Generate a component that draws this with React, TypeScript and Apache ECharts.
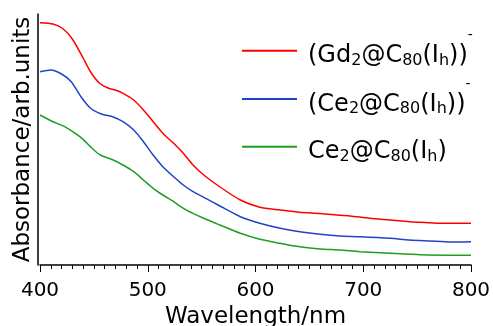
import React, { useEffect, useRef } from "react";
import * as echarts from "echarts";

const FONT = "DejaVu Sans";

const xTicks = [400, 500, 600, 700, 800];

const seriesNames = ["(Gd2@C80(Ih))-", "(Ce2@C80(Ih))-", "Ce2@C80(Ih)"];
const seriesColors = ["#ff0000", "#2244c4", "#1f9e1f"];

const redWl = [400, 412, 421, 430, 440, 447, 455, 463, 470, 477, 487, 496, 505, 514, 524, 533, 542, 552, 567, 586, 604, 623, 641, 660, 678, 688, 706, 725, 743, 762, 774, 800];
const redAbs = [242.3, 241, 236.5, 226, 207, 193, 182, 177, 175, 171.7, 165, 155, 143.3, 131.7, 121.7, 111.7, 100, 90, 78, 65, 57.7, 55, 52.7, 51.5, 49.8, 49, 46.7, 45, 43.3, 42.3, 41.7, 41.7];

const blueWl = [400, 410, 420, 429, 438, 447, 457, 468, 477, 487, 496, 505, 514, 524, 533, 542, 552, 567, 586, 604, 623, 641, 660, 678, 697, 725, 743, 762, 781, 800];
const blueAbs = [193.3, 195, 191, 183.3, 168.3, 156.7, 151, 148, 143.3, 135, 123.3, 110, 98.3, 88.3, 80, 73.3, 67.7, 59, 48.3, 41.7, 36.7, 33.3, 30.7, 29, 28.3, 26.7, 25, 24, 23, 23.3];

const greenWl = [400, 412, 424, 437, 450, 456, 468, 477, 487, 496, 505, 514, 524, 533, 542, 552, 567, 586, 604, 623, 641, 660, 678, 697, 725, 753, 800];
const greenAbs = [150, 143.3, 137.7, 128.3, 115, 110, 105, 100, 93.3, 85, 76.7, 70, 63.3, 56.7, 51.7, 46.7, 40, 31.7, 25.7, 21.7, 18.3, 16, 15, 13.3, 11.7, 10.3, 9.7];

// legend label pieces: [text, kind] (m = main, s = subscript, p = superscript)
const legendParts: [string, string][][] = [
  [["(Gd", "m"], ["2", "s"], ["@C", "m"], ["80", "s"], ["(I", "m"], ["h", "s"], ["))", "m"], ["-", "p"]],
  [["(Ce", "m"], ["2", "s"], ["@C", "m"], ["80", "s"], ["(I", "m"], ["h", "s"], ["))", "m"], ["-", "p"]],
  [["Ce", "m"], ["2", "s"], ["@C", "m"], ["80", "s"], ["(I", "m"], ["h", "s"], [")", "m"]],
];

const legendRowY = [50.7, 99, 146.7];
const PART_SIZE: Record<string, number> = { m: 24, s: 16, p: 14 };
// baseline offset from row line
const PART_BASE: Record<string, number> = { m: 12, s: 14.5, p: -11.5 };

function zip(xs: number[], ys: number[]) {
  return xs.map((x, i) => [x, ys[i]]);
}

function buildLegend() {
  const canvas = document.createElement("canvas");
  const ctx = canvas.getContext("2d")!;
  const els: any[] = [];
  legendParts.forEach((parts, i) => {
    const y0 = legendRowY[i];
    els.push({
      type: "line",
      shape: { x1: 242, y1: y0, x2: 297, y2: y0 },
      style: { stroke: seriesColors[i], lineWidth: 2 },
      silent: true,
    });
    let x = 308;
    parts.forEach(([t, k]) => {
      const size = PART_SIZE[k];
      ctx.font = `${size}px "${FONT}"`;
      const w = ctx.measureText(t).width;
      const baseline = y0 + PART_BASE[k];
      els.push({
        type: "text",
        x,
        y: baseline - 0.346 * size,
        silent: true,
        style: {
          text: t,
          fontSize: size,
          fontFamily: FONT,
          fill: "#000",
          align: "left",
          verticalAlign: "middle",
        },
      });
      x += w;
    });
  });
  return els;
}

export default function App() {
  const ref = useRef<HTMLDivElement>(null);
  useEffect(() => {
    if (!ref.current) return;
    const chart = echarts.init(ref.current, undefined, { renderer: "svg" });
    const data = [zip(redWl, redAbs), zip(blueWl, blueAbs), zip(greenWl, greenAbs)];
    chart.setOption({
      animation: false,
      textStyle: { fontFamily: FONT },
      grid: { left: 40, right: 22, top: 14, bottom: 61, containLabel: false, outerBoundsMode: "none" },
      legend: { show: false },
      xAxis: {
        type: "value",
        min: xTicks[0],
        max: xTicks[xTicks.length - 1],
        interval: 100,
        axisLine: { show: true, onZero: false, lineStyle: { color: "#000", width: 1.5 } },
        axisTick: { show: true, length: 7, lineStyle: { color: "#000", width: 1 } },
        minorTick: { show: true, splitNumber: 10, length: 4, lineStyle: { color: "#000", width: 1 } },
        splitLine: { show: false },
        minorSplitLine: { show: false },
        axisLabel: { color: "#000", fontSize: 20, fontFamily: FONT, margin: 14 },
        name: "Wavelength/nm",
        nameLocation: "middle",
        nameGap: 32,
        nameTextStyle: { color: "#000", fontSize: 23, fontFamily: FONT },
      },
      yAxis: {
        type: "value",
        min: 0,
        max: 251,
        offset: 2,
        axisLine: { show: true, lineStyle: { color: "#000", width: 1.5 } },
        axisTick: { show: false },
        axisLabel: { show: false },
        splitLine: { show: false },
        name: "Absorbance/arb.units",
        nameLocation: "middle",
        nameGap: 6,
        nameTextStyle: { color: "#000", fontSize: 23, fontFamily: FONT },
      },
      graphic: buildLegend(),
      series: seriesNames.map((n, i) => ({
        name: n,
        type: "line",
        data: data[i],
        smooth: 0.25,
        symbol: "none",
        lineStyle: { color: seriesColors[i], width: 1.5 },
        itemStyle: { color: seriesColors[i] },
      })),
    });
    return () => chart.dispose();
  }, []);
  return <div ref={ref} style={{ position: "fixed", left: 0, top: 0, width: 493, height: 326 }} />;
}
